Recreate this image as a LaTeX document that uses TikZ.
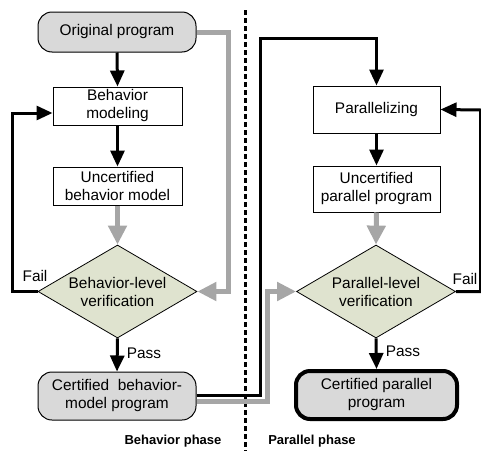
\documentclass[tikz,border=0pt]{standalone}
\usepackage{fontspec}
\setmainfont{Liberation Sans}
\usetikzlibrary{arrows.meta,shapes.geometric}
\definecolor{boxgray}{HTML}{D9D9D9}
\definecolor{diafill}{HTML}{DFE3CF}
\definecolor{linegray}{HTML}{A6A6A6}
\begin{document}
\begin{tikzpicture}[x=1pt,y=-1pt,
  txt/.style={font=\fontsize{15.4}{18}\selectfont, align=center},
  plainbox/.style={txt, draw=black, line width=1pt, fill=white, minimum width=129pt, inner sep=0pt},
  roundbox/.style={txt, draw=black, line width=1pt, fill=boxgray, rounded corners=14pt, minimum width=158pt, minimum height=46pt, inner sep=0pt},
  dia/.style={diamond, draw=black, line width=0.8pt, fill=diafill, minimum width=159pt, minimum height=93pt, aspect=1.71, inner sep=0pt},
  blk/.style={draw=black, line width=3pt, -{Triangle[length=16pt,width=14pt]}},
  gry/.style={draw=linegray, line width=5pt, -{Triangle[length=19pt,width=18pt]}},
  lab/.style={font=\fontsize{15.4}{18}\selectfont, inner sep=0pt},
  phase/.style={font=\bfseries\fontsize{13}{15}\selectfont, inner sep=0pt}
]
\useasboundingbox (0,0) rectangle (481,450);
\clip (0,0) rectangle (481,450);

% divider
\draw[line width=3pt, dash pattern=on 5pt off 3pt] (245,10) -- (245,452);

% left column
\node[roundbox, minimum height=40pt] (op) at (117,32) {Original program};
\node[plainbox, minimum height=38pt] (bm) at (117.5,106) {Behavior\\modeling};
\node[plainbox, minimum height=38pt] (ubm) at (117.5,186) {Uncertified\\behavior model};
\node[dia] (bv) at (117.5,291.5) {};
\node[txt] at (bv) {Behavior-level\\verification};
\node[roundbox, minimum height=48pt] (cbm) at (117,396) {Certified \ behavior-\\model program};

% right column
\node[plainbox, minimum width=127pt, minimum height=47pt] (par) at (376.5,109.5) {Parallelizing};
\node[plainbox, minimum width=127pt, minimum height=46pt] (upp) at (376.5,189) {Uncertified\\parallel program};
\node[dia] (pv) at (376,291.5) {};
\node[txt] at (pv) {Parallel-level\\verification};
\node[roundbox, line width=4pt, minimum width=161pt, minimum height=48pt] (cpp) at (376.5,395) {Certified parallel\\program};

% coordinates
\coordinate (lf1) at (12,291.5);
\coordinate (lf2) at (12,113);
\coordinate (g1) at (228,32);
\coordinate (g2) at (228,291.5);
\coordinate (b1) at (260,395);
\coordinate (b2) at (260,38);
\coordinate (b3) at (376.5,38);
\coordinate (g3) at (267,401);
\coordinate (g4) at (267,291.5);
\coordinate (rf1) at (480.5,291.5);
\coordinate (rf2) at (480.5,110);

% gray connectors
\draw[gry] (op.east) -- (g1) -- (g2) -- (bv.east);
\draw[gry] (ubm.south) -- (bv.north);
\draw[gry] (upp.south) -- (pv.north);
\draw[gry] (cbm.east |- g3) -- (g3) -- (g4) -- (pv.west);

% black connectors
\draw[blk] (op.south) -- (bm.north);
\draw[blk] (bm.south) -- (ubm.north);
\draw[blk] (bv.south) -- (cbm.north);
\draw[blk] (bv.west) -- (lf1) -- (lf2) -- (bm.west |- lf2);
\draw[blk] (cbm.east |- b1) -- (b1) -- (b2) -- (b3) -- (par.north);
\draw[blk] (par.south) -- (upp.north);
\draw[blk] (pv.south) -- (cpp.north);
\draw[blk] (pv.east) -- (rf1) -- (rf2) -- (par.east);

% labels
\node[lab] (fail1) at (35,276) {Fail};
\node[lab] (pass1) at (144,353) {Pass};
\node[lab] (fail2) at (465,279) {Fail};
\node[lab] (pass2) at (403,351) {Pass};
\node[phase] (ph1) at (173,441) {Behavior phase};
\node[phase] (ph2) at (312,441) {Parallel phase};
\end{tikzpicture}
\end{document}
